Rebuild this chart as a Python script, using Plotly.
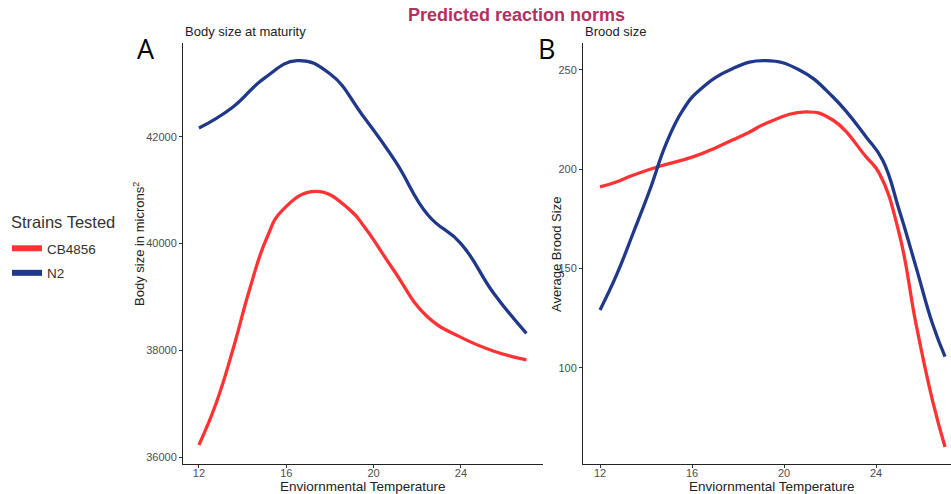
import plotly.graph_objects as go

W, H = 951, 494

# ---- data ----
body_n2_temp = [12, 13.5, 15, 16.5, 18, 19.5, 21, 22.5, 24, 25.5, 27]
body_n2_val = [42163, 42540, 43100, 43425, 43180, 42400, 41540, 40530, 40000, 39070, 38318]

body_cb_temp = [12, 12.8, 13.56, 14.32, 15.08, 15.85, 17.37, 18.9, 19.6, 20.9, 22.43, 23.96, 25.48, 27]
body_cb_val = [36225, 37023, 38019, 39140, 40075, 40636, 40978, 40636, 40300, 39514, 38642, 38251, 37988, 37819]

brood_n2_temp = [12, 12.71, 13.43, 14.16, 14.88, 15.6, 16.33, 17.78, 19.2, 20.67, 22.12, 23.57, 24.29, 25.01, 25.74, 26.46, 27]
brood_n2_val = [129.1, 146.5, 167.5, 189.4, 213, 229.8, 239.9, 250.8, 254.7, 250, 236.5, 216.3, 204.5, 179.3, 150.7, 122, 105.6]

brood_cb_temp = [12, 12.71, 13.43, 14.59, 16.04, 17.06, 17.78, 18.51, 19.2, 20.96, 22.12, 23.57, 24.15, 25.01, 25.74, 26.46, 27]
brood_cb_val = [191.1, 193.6, 197, 201.5, 206.2, 211.0, 214.8, 218.8, 223.0, 228.9, 224.8, 206.2, 197.8, 167.5, 122, 83.3, 60.1]

x_ticks = [12, 16, 20, 24]
body_ticks = [36000, 38000, 40000, 42000]
brood_ticks = [100, 150, 200, 250]

strains = ["CB4856", "N2"]
RED = "#ff3333"
NAVY = "#20388a"
colors = {"CB4856": RED, "N2": NAVY}

FONT = "Liberation Sans, Arial, sans-serif"


def px_x(p):
    return p / W


def px_y(p):
    return 1 - p / H


fig = go.Figure()

line_w = 3.3
spl = dict(shape="spline", smoothing=1.3)
fig.add_trace(go.Scatter(x=body_cb_temp, y=body_cb_val, mode="lines", line=dict(color=RED, width=line_w, **spl),
                         xaxis="x", yaxis="y", showlegend=False, hoverinfo="skip"))
fig.add_trace(go.Scatter(x=body_n2_temp, y=body_n2_val, mode="lines", line=dict(color=NAVY, width=line_w, **spl),
                         xaxis="x", yaxis="y", showlegend=False, hoverinfo="skip"))
fig.add_trace(go.Scatter(x=brood_cb_temp, y=brood_cb_val, mode="lines", line=dict(color=RED, width=line_w, **spl),
                         xaxis="x2", yaxis="y2", showlegend=False, hoverinfo="skip"))
fig.add_trace(go.Scatter(x=brood_n2_temp, y=brood_n2_val, mode="lines", line=dict(color=NAVY, width=line_w, **spl),
                         xaxis="x2", yaxis="y2", showlegend=False, hoverinfo="skip"))

# legend entries
for s in strains:
    fig.add_trace(go.Scatter(x=[None], y=[None], mode="lines", name=s, legendgroup=s,
                             line=dict(color=colors[s], width=6), xaxis="x", yaxis="y"))

axis_common = dict(
    showline=True, linecolor="#222222", linewidth=1.1,
    ticks="outside", ticklen=3, tickwidth=1, tickcolor="#333333",
    showgrid=False, zeroline=False, tickformat="d",
    tickfont=dict(family=FONT, size=11, color="#4d4d4d"),
    fixedrange=True,
)

ydom = [px_y(464), px_y(43)]

fig.update_layout(
    width=W, height=H,
    margin=dict(l=0, r=0, t=0, b=0),
    paper_bgcolor="white", plot_bgcolor="white",
    font=dict(family=FONT),
    xaxis=dict(domain=[px_x(183), px_x(543)], range=[11.27, 27.76], tickvals=x_ticks, anchor="y",
               ticklabelstandoff=-4, **axis_common),
    yaxis=dict(domain=ydom, range=[35870, 43757], tickvals=body_ticks, anchor="x", **axis_common),
    xaxis2=dict(domain=[px_x(583), 1.0], range=[11.26, 27.26], tickvals=x_ticks, anchor="y2",
                ticklabelstandoff=-4, **axis_common),
    yaxis2=dict(domain=ydom, range=[51.5, 263.6], tickvals=brood_ticks, anchor="x2", **axis_common),
    showlegend=True,
    legend=dict(
        x=px_x(7), y=px_y(233), xanchor="left", yanchor="top",
        font=dict(family=FONT, size=13.5, color="#333333"),
        itemwidth=30, tracegroupgap=4, bgcolor="rgba(0,0,0,0)",
    ),
)

annotations = [
    dict(text="<b>Predicted reaction norms</b>", x=px_x(516), y=px_y(15), font=dict(size=18, color="#b5305f", family=FONT)),
    dict(text="Body size at maturity", x=px_x(183), y=px_y(32), xanchor="left", font=dict(size=13, color="#222222", family=FONT)),
    dict(text="Brood size", x=px_x(583), y=px_y(32), xanchor="left", font=dict(size=13, color="#222222", family=FONT)),
    dict(text="A", x=px_x(146), y=px_y(48), font=dict(size=27, color="black", family="Open Sans, sans-serif")),
    dict(text="B", x=px_x(546), y=px_y(48), font=dict(size=27, color="black", family="Open Sans, sans-serif")),
    dict(text="Enviornmental Temperature", x=px_x(363), y=px_y(486), font=dict(size=13.5, color="#222222", family=FONT)),
    dict(text="Enviornmental Temperature", x=px_x(772), y=px_y(486), font=dict(size=13.5, color="#222222", family=FONT)),
    dict(text="Body size in microns<sup>2</sup>", x=px_x(139), y=px_y(244), textangle=-90, font=dict(size=13, color="#222222", family=FONT)),
    dict(text="Average Brood Size", x=px_x(556), y=px_y(255), textangle=-90, font=dict(size=13, color="#222222", family=FONT)),
    dict(text="Strains Tested", x=px_x(9), y=px_y(222), xanchor="left", font=dict(size=16.5, color="#333333", family=FONT)),
]
for a in annotations:
    a.setdefault("xref", "paper")
    a.setdefault("yref", "paper")
    a.setdefault("showarrow", False)
    a.setdefault("xanchor", "center")
    a.setdefault("yanchor", "middle")
fig.update_layout(annotations=annotations)

fig.write_html("out.html", config={"displayModeBar": False},
               post_script="document.body.style.margin='0px';document.body.style.overflow='hidden';")
